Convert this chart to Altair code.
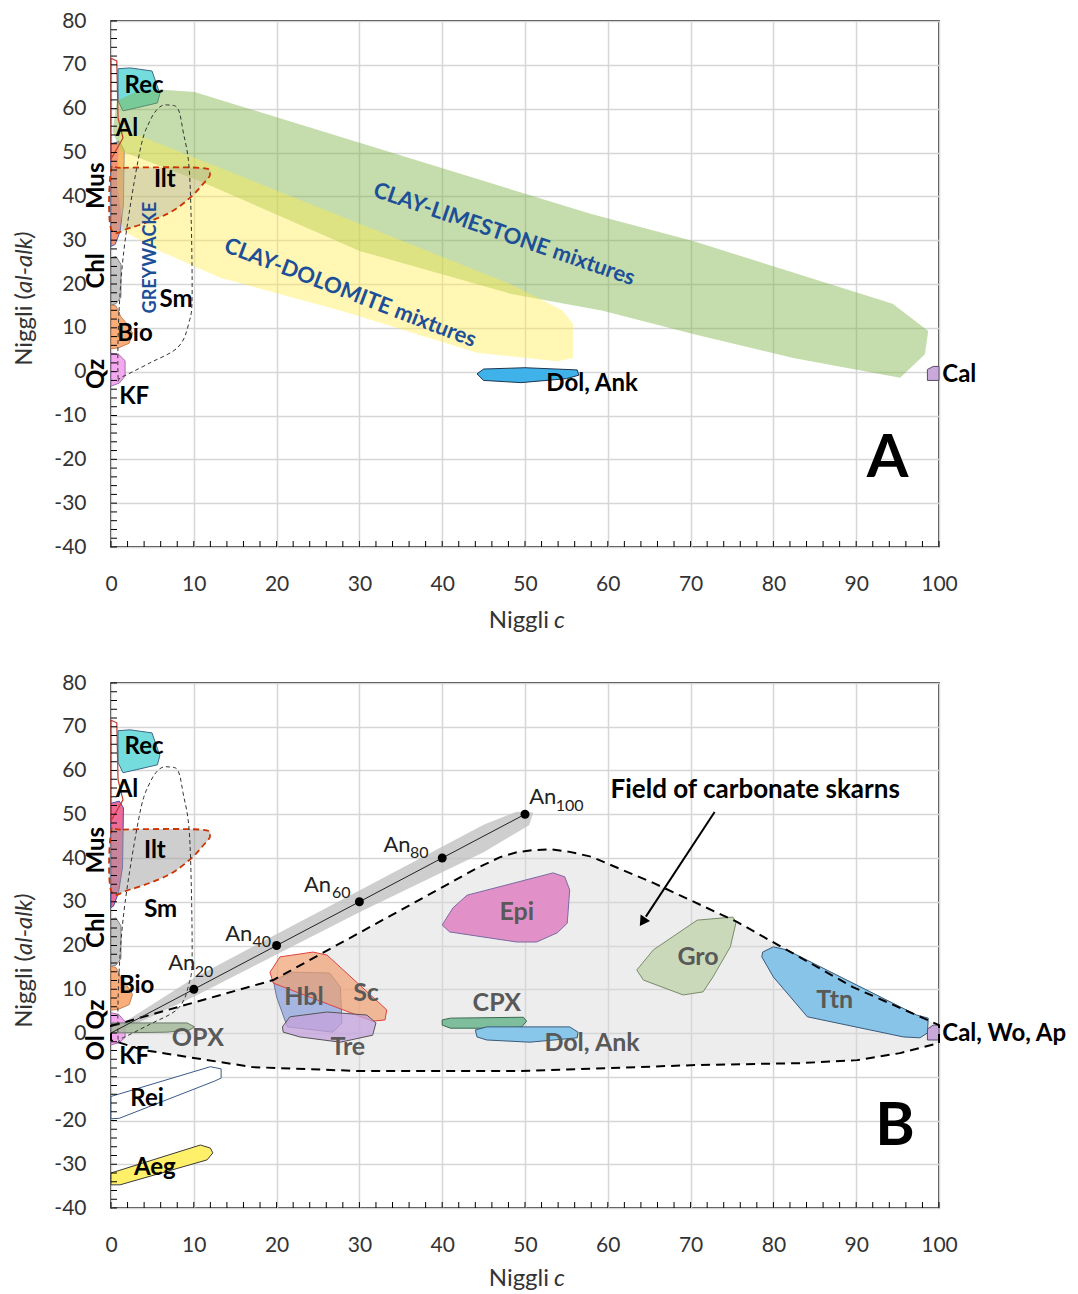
import altair as alt
import pandas as pd

# ---------------- axes ----------------
X_TICKS = [0, 10, 20, 30, 40, 50, 60, 70, 80, 90, 100]
Y_TICKS = [-40, -30, -20, -10, 0, 10, 20, 30, 40, 50, 60, 70, 80]
MINOR_X = list(range(0, 101, 2))
MINOR_Y = list(range(-40, 81, 2))

# ---------------- shared mineral fields (Niggli c, Niggli al-alk) ----------------
REC = [(0.85, 69.1), (2.3, 69.3), (4.95, 68.6), (5.9, 63.4), (5.6, 61.3), (3.1, 60.2), (1.45, 59.5), (0.85, 61.8)]
AL = [(0.0, 71.5), (0.7, 70.9), (0.85, 57.9), (1.45, 53.3), (0.0, 48.5)]
CHL = [(0, 26.0), (0.6, 26.3), (1.2, 24.5), (1.2, 17.0), (0.6, 15.5), (0, 15.2)]
BIO = [(0, 15.2), (0.6, 15.0), (1.2, 12.5), (1.8, 11.2), (2.6, 8.8), (2.2, 6.5), (1.0, 5.5), (0, 5.2)]
ILT = [(0, 45.8), (1.45, 46.5), (10.75, 46.5), (11.96, 45.1), (11.1, 42.8), (9.5, 39.6), (6.8, 36.0), (2.3, 32.8), (0, 32.6)]
GREYWACKE = [(0.85, -1.0), (0.97, 13.8), (1.7, 29.8), (3.5, 50.4), (4.7, 57.2), (5.9, 60.4), (7.1, 60.8), (8.1, 59.9),
             (8.7, 54.9), (9.5, 44.7), (9.8, 18.4), (9.4, 11.1), (8.1, 5.6), (4.7, 2.0), (1.3, -1.2)]

# ---------------- panel A ----------------
A_LIMESTONE = [(0.7, 61.8), (2.9, 63.7), (5.9, 64.4), (10.1, 63.8), (57.9, 36.0), (70.3, 29.8), (94.4, 15.5), (98.7, 9.3),
               (98.3, 4.0), (95.3, -1.4), (82.4, 3.1), (70.3, 8.6), (59.4, 13.9), (48.2, 17.8), (30.1, 27.5), (10.7, 43.5),
               (1.1, 50.4), (0.2, 54.9)]
A_DOLOMITE = [(1.1, 55.6), (48.2, 20.0), (54.5, 14.0), (55.8, 10.9), (55.8, 3.1), (53.9, 2.4), (44.2, 4.3), (28.0, 13.8),
              (13.2, 21.4), (5.9, 27.5), (1.5, 32.1), (0.7, 43.5)]
A_MUS = [(0, 52.0), (1.0, 52.5), (1.6, 50.5), (1.5, 38.0), (1.1, 32.0), (0.5, 29.0), (0, 28.6)]
A_QZ = [(0, 4.2), (0.9, 4.0), (1.7, 2.5), (1.7, -1.0), (1.0, -2.6), (0, -3.3)]
A_DOL = [(44.2, -0.5), (45.0, 0.6), (50.0, 0.9), (56.3, 0.4), (56.5, -0.8), (55.0, -1.6), (49.5, -2.5), (45.0, -2.0)]
A_CAL = [(98.6, -2.0), (98.6, 0.5), (99.3, 1.2), (100, 1.2), (100, -2.0)]

A_LABELS = [("Rec", 4.0, 65.2), ("Al", 1.93, 55.4), ("Ilt", 6.5, 43.7), ("Sm", 7.85, 16.3), ("Bio", 2.9, 8.6),
            ("KF", 2.8, -5.8), ("Dol, Ank", 58.1, -2.8)]
A_LABELS_RIGHT = [("Cal", 100.4, -0.75)]
A_SIDE = [("Mus", -1.7, 42.4), ("Chl", -1.7, 23.0), ("Qz", -1.7, -0.5)]
A_LIME_TXT = [("CLAY-LIMESTONE mixtures", 47.5, 31.4)]
A_DOLO_TXT = [("CLAY-DOLOMITE mixtures", 28.9, 18.0)]
A_GREY_TXT = [("GREYWACKE", 4.8, 26.0)]
A_LETTER = [("A", 93.8, -19.9)]

# ---------------- panel B ----------------
B_FIELD = [(0, 1.6), (19.6, 12.1), (40.1, 33.4), (44.0, 37.5), (47.0, 40.2), (49.0, 41.3), (51.0, 41.8), (53.0, 42.0),
           (55.4, 41.4), (58.0, 40.3), (61.5, 37.5), (65.5, 34.3), (75.6, 25.4), (89.6, 10.5), (98.1, 3.4), (100, 1.8),
           (100, -2.3), (95.3, -4.6), (90.1, -6.2), (83.2, -6.9), (71.1, -7.3), (49.4, -8.7), (30.1, -8.7),
           (17.1, -7.8), (3.9, -3.9), (0, -1.6)]
B_AN_BAND = [(0, 0.5), (10, 12.6), (30, 32.6), (45, 47.6), (49, 50.6), (51, 50.4), (50.5, 47.5), (45, 41.3),
             (30, 27.6), (10, 8.3), (2, 1.2)]
AN_C = [0, 10, 20, 30, 40, 50]
AN_AL = [0, 10, 20, 30, 40, 50]
AN_LABELS = [("An", "20", 6.9, 16.0, 10.1, 13.9), ("An", "40", 13.8, 22.6, 17.1, 20.8),
             ("An", "60", 23.3, 33.8, 26.7, 32.0), ("An", "80", 32.9, 43.0, 36.1, 41.1),
             ("An", "100", 50.5, 53.9, 53.7, 51.9)]
B_MUS = [(0, 52.5), (1.0, 53.0), (1.5, 51.5), (1.4, 38.0), (0.9, 32.0), (0.3, 29.0), (0, 28.7)]
B_QZ = [(0, 4.6), (0.9, 4.3), (1.7, 2.6), (1.7, -1.0), (1.0, -2.2), (0, -2.7)]
B_OPX = [(0, 2.3), (9.2, 2.3), (10.1, 1.4), (9.5, 0.7), (6.8, 0.2), (0, 0.0)]
B_REI = [(0, -14.5), (12.0, -7.7), (13.3, -8.2), (13.3, -10.3), (12.5, -11.0), (1.0, -19.5), (0, -19.6)]
B_AEG = [(0, -32.0), (10.8, -25.6), (12.0, -26.3), (12.3, -27.4), (11.6, -29.0), (1.1, -34.7), (0, -34.7)]
B_HBL = [(19.6, 12.1), (22.0, 13.9), (26.4, 13.7), (27.7, 10.5), (27.9, 2.3), (26.8, 0.2), (21.3, 1.4), (20.0, 8.2)]
B_SC = [(19.2, 13.9), (20.4, 17.4), (24.4, 18.5), (26.1, 17.8), (33.3, 5.3), (33.1, 3.0), (31.6, 2.7), (19.6, 11.4)]
B_TRE = [(20.7, 1.4), (21.6, 3.7), (26.1, 4.8), (30.9, 4.1), (32.0, 2.3), (31.6, -0.5), (27.7, -2.1), (22.8, -0.9), (20.8, 0.2)]
B_EPI = [(40.0, 24.7), (41.3, 28.6), (43.0, 31.5), (53.4, 36.6), (54.8, 35.7), (55.4, 32.7), (55.1, 25.1), (53.9, 22.9),
         (51.4, 20.8), (49.0, 20.8), (40.9, 23.1)]
B_CPX = [(40.0, 3.0), (41.0, 3.4), (49.8, 3.6), (50.2, 2.7), (49.6, 1.4), (48.6, 1.1), (41.0, 1.1), (40.0, 1.8)]
B_DOL = [(44.0, 0.7), (45.4, 1.4), (55.4, 1.4), (56.4, 0.2), (56.3, -1.1), (50.6, -2.1), (45.4, -1.6), (44.2, -0.9)]
B_GRO = [(63.5, 14.4), (65.5, 19.0), (70.8, 25.8), (75.1, 26.5), (75.5, 25.4), (74.8, 19.7), (72.7, 12.8), (71.5, 9.4),
         (69.1, 8.7), (64.3, 12.1)]
B_TTN = [(78.7, 18.5), (80.0, 19.7), (81.6, 19.0), (97.3, 4.1), (98.7, 3.4), (98.6, 0.0), (97.7, -1.1), (95.7, -0.9),
         (84.1, 3.7), (80.0, 12.8), (78.6, 17.4)]
B_CAL = [(98.6, -1.6), (98.6, 0.9), (99.3, 1.8), (100, 1.8), (100, -1.6)]
B_ARROW = [(72.9, 50.5), (64.6, 26.6)]
B_ARROW_TIP = [(64.2, 25.4)]

B_LABELS = [("Rec", 4.0, 65.4), ("Al", 1.93, 55.6), ("Ilt", 5.3, 41.6), ("Sm", 6.0, 28.1), ("Bio", 3.1, 10.7),
            ("KF", 2.8, -5.5), ("Rei", 4.35, -15.1), ("Aeg", 5.3, -30.9)]
B_GREY_LABELS = [("OPX", 10.5, -1.1), ("Hbl", 23.3, 8.2), ("Sc", 30.8, 9.1), ("Tre", 28.6, -3.2), ("Epi", 49.0, 27.7),
                 ("CPX", 46.6, 6.9), ("Dol, Ank", 58.1, -2.3), ("Gro", 70.9, 17.4), ("Ttn", 87.4, 7.5)]
B_LABELS_RIGHT = [("Cal, Wo, Ap", 100.4, -0.2)]
B_SIDE = [("Mus", -1.7, 41.8), ("Chl", -1.7, 23.5), ("Ol Qz", -1.7, 0.7)]
B_FIELD_TXT = [("Field of carbonate skarns", 77.8, 55.5)]
B_LETTER = [("B", 94.7, -21.5)]

W = 828
FONT = "Lato"
LABEL_EXPR = "'' + datum.value"


def enc_x():
    return alt.X("c:Q", scale=alt.Scale(domain=[0, 100], nice=False, zero=False),
                 axis=alt.Axis(values=X_TICKS, title=None, ticks=False, domain=False, grid=True,
                               gridColor="#d6d6d6", gridWidth=1.5, labelFont=FONT, labelFontSize=21,
                               labelColor="#333333", labelPadding=26, labelFlush=False, labelExpr=LABEL_EXPR))


def enc_y():
    return alt.Y("a:Q", scale=alt.Scale(domain=[-40, 80], nice=False, zero=False),
                 axis=alt.Axis(values=Y_TICKS, title=None, ticks=False, domain=False, grid=True,
                               gridColor="#d6d6d6", gridWidth=1.5, labelFont=FONT, labelFontSize=21,
                               labelColor="#333333", labelPadding=25, labelFlush=False, labelExpr=LABEL_EXPR))


def shape(pts, fill=None, fill_opacity=1.0, stroke="#333333", stroke_width=1.0, dash=None,
          stroke_opacity=1.0, interp="linear-closed"):
    df = pd.DataFrame({"c": [p[0] for p in pts], "a": [p[1] for p in pts], "k": list(range(len(pts)))})
    kw = dict(interpolate=interp, stroke=stroke, strokeWidth=stroke_width, strokeOpacity=stroke_opacity)
    if fill:
        kw["fill"] = fill
        kw["fillOpacity"] = fill_opacity
    if dash:
        kw["strokeDash"] = dash
    return alt.Chart(df).mark_line(**kw).encode(x=enc_x(), y=enc_y(), order="k:Q")


def labels(rows, size=24, color="black", weight="bold", align="center", angle=0, style="normal"):
    df = pd.DataFrame(rows, columns=["t", "c", "a"])
    return alt.Chart(df).mark_text(font=FONT, fontSize=size, fontWeight=weight, color=color, align=align,
                                   baseline="middle", angle=angle, fontStyle=style).encode(
        x=enc_x(), y=enc_y(), text="t:N")


def pix_text(txt, px, py, size=24, align="center", angle=0, style="normal"):
    df = pd.DataFrame({"t": [txt]})
    return alt.Chart(df).mark_text(font=FONT, fontSize=size, color="#333333", align=align, baseline="middle",
                                   angle=angle, fontStyle=style).encode(
        x=alt.value(px), y=alt.value(py), text="t:N")


def frame_parts(h, title_gap):
    tx = alt.Chart(pd.DataFrame({"c": MINOR_X})).mark_rule(color="black", strokeWidth=1).encode(
        x=enc_x(), y=alt.value(h), y2=alt.value(h - 6))
    ty = alt.Chart(pd.DataFrame({"a": MINOR_Y})).mark_rule(color="black", strokeWidth=1).encode(
        y=enc_y(), x=alt.value(0), x2=alt.value(6))
    titles = [
        pix_text("Niggli", 438, h + title_gap, align="right"),
        pix_text("c", 443, h + title_gap, align="left", style="italic"),
        pix_text("Niggli (", -86, 272, align="right", angle=270),
        pix_text("al-alk)", -86, 272, align="left", angle=270, style="italic"),
    ]
    return [tx, ty] + titles


# ---------------- panel A ----------------
HA = 526
layers_a = [
    shape(REC, fill="#74dcdc", stroke="#3d6a8a"),
    shape(A_MUS, fill="#f48a68", fill_opacity=0.9, stroke="#5060b0"),
    shape(CHL, fill="#c4c4c4", stroke="#808080"),
    shape(BIO, fill="#f9ad7a", stroke="#c88050"),
    shape(A_QZ, fill="#f4a8ee", stroke="#a070b0"),
    shape(A_DOL, fill="#3fb2ea", stroke="#1d3550"),
    shape(A_CAL, fill="#c9a9d9", stroke="#5a4a6a"),
    shape(A_LIMESTONE, fill="#7fb347", fill_opacity=0.45, stroke_opacity=0),
    shape(A_DOLOMITE, fill="#ffec4a", fill_opacity=0.42, stroke_opacity=0),
    shape(AL, stroke="#c0392b", stroke_width=1.2),
    shape(ILT, fill="#9e9e9e", fill_opacity=0.35, stroke="#cc3300", stroke_width=1.8, dash=[6, 4],
          interp="cardinal-closed"),
    shape(GREYWACKE, stroke="#333333", stroke_width=1, dash=[4, 3], interp="cardinal-closed"),
    labels(A_LABELS),
    labels(A_LABELS_RIGHT, align="left"),
    labels(A_SIDE, angle=270),
    labels(A_LIME_TXT, size=22, color="#1c4f98", angle=19),
    labels(A_DOLO_TXT, size=22, color="#1c4f98", angle=21),
    labels(A_GREY_TXT, size=18, color="#1c4f98", angle=270),
    labels(A_LETTER, size=60),
] + frame_parts(HA, 74)
panel_a = alt.layer(*layers_a).properties(width=W, height=HA)

# ---------------- panel B ----------------
HB = 525
an_df = pd.DataFrame({"c": AN_C, "a": AN_AL})
an_line = alt.Chart(an_df).mark_line(color="#222222", strokeWidth=1).encode(x=enc_x(), y=enc_y())
an_pts = alt.Chart(an_df[an_df["c"] > 0]).mark_circle(color="black", size=80, opacity=1).encode(x=enc_x(), y=enc_y())
an_main = labels([(r[0], r[2], r[3]) for r in AN_LABELS], size=22, weight="normal", color="#222222", align="left")
an_sub = labels([(r[1], r[4], r[5]) for r in AN_LABELS], size=16, weight="normal", color="#222222", align="left")
arrow_df = pd.DataFrame({"c": [p[0] for p in B_ARROW], "a": [p[1] for p in B_ARROW]})
arrow_line = alt.Chart(arrow_df).mark_line(color="black", strokeWidth=2).encode(x=enc_x(), y=enc_y())
tip_df = pd.DataFrame({"c": [p[0] for p in B_ARROW_TIP], "a": [p[1] for p in B_ARROW_TIP]})
arrow_tip = alt.Chart(tip_df).mark_point(shape="triangle-up", filled=True, color="black", size=130, angle=214,
                                         opacity=1).encode(x=enc_x(), y=enc_y())

layers_b = [
    shape(B_FIELD, fill="#d6d6d6", fill_opacity=0.45, stroke_opacity=0),
    shape(B_AN_BAND, fill="#bdbdbd", fill_opacity=0.75, stroke_opacity=0),
    shape(REC, fill="#74dcdc", stroke="#3d6a8a"),
    shape(B_MUS, fill="#ee5a8c", fill_opacity=0.9, stroke="#4050b0"),
    shape(CHL, fill="#c4c4c4", stroke="#808080"),
    shape(BIO, fill="#f9ad7a", stroke="#c88050"),
    shape(B_QZ, fill="#f4a8ee", stroke="#a070b0"),
    shape(B_OPX, fill="#a3b89a", fill_opacity=0.85, stroke="#6a7a6a"),
    shape(B_REI, fill="white", stroke="#3a5a8a"),
    shape(B_AEG, fill="#fff06a", stroke="#3a3a3a"),
    shape(B_HBL, fill="#94a8dc", fill_opacity=0.8, stroke="#707890"),
    shape(B_SC, fill="#f0a070", fill_opacity=0.7, stroke="#e04040"),
    shape(B_TRE, fill="#c4a2dc", fill_opacity=0.75, stroke="#555555"),
    shape(B_EPI, fill="#e28cc6", fill_opacity=0.95, stroke="#7a6aa0"),
    shape(B_CPX, fill="#72b892", fill_opacity=0.9, stroke="#3a6a50"),
    shape(B_DOL, fill="#88c6ea", stroke="#3a5a7a"),
    shape(B_GRO, fill="#c9d8b8", fill_opacity=0.95, stroke="#7a8a6a"),
    shape(B_TTN, fill="#88c4e8", stroke="#3a5a7a"),
    shape(B_CAL, fill="#c9a9d9", stroke="#5a4a6a"),
    shape(B_FIELD, stroke="black", stroke_width=2, dash=[9, 6]),
    shape(AL, stroke="#c0392b", stroke_width=1.2),
    shape(ILT, fill="#9e9e9e", fill_opacity=0.5, stroke="#cc3300", stroke_width=1.8, dash=[6, 4],
          interp="cardinal-closed"),
    shape(GREYWACKE, stroke="#333333", stroke_width=1, dash=[4, 3], interp="cardinal-closed"),
    an_line, an_pts, an_main, an_sub, arrow_line, arrow_tip,
    labels(B_LABELS),
    labels(B_GREY_LABELS, size=25, color="#595959"),
    labels(B_LABELS_RIGHT, align="left"),
    labels(B_SIDE, angle=270),
    labels(B_FIELD_TXT, size=26),
    labels(B_LETTER, size=60),
] + frame_parts(HB, 71)
panel_b = alt.layer(*layers_b).properties(width=W, height=HB)

chart = alt.vconcat(panel_a, panel_b, spacing=37).properties(
    padding={"left": 12, "top": 9, "right": 5, "bottom": 2}, background="white"
).configure_view(stroke="black", strokeWidth=1.5)

chart.save("out.html", embed_options={"renderer": "svg", "actions": False})
